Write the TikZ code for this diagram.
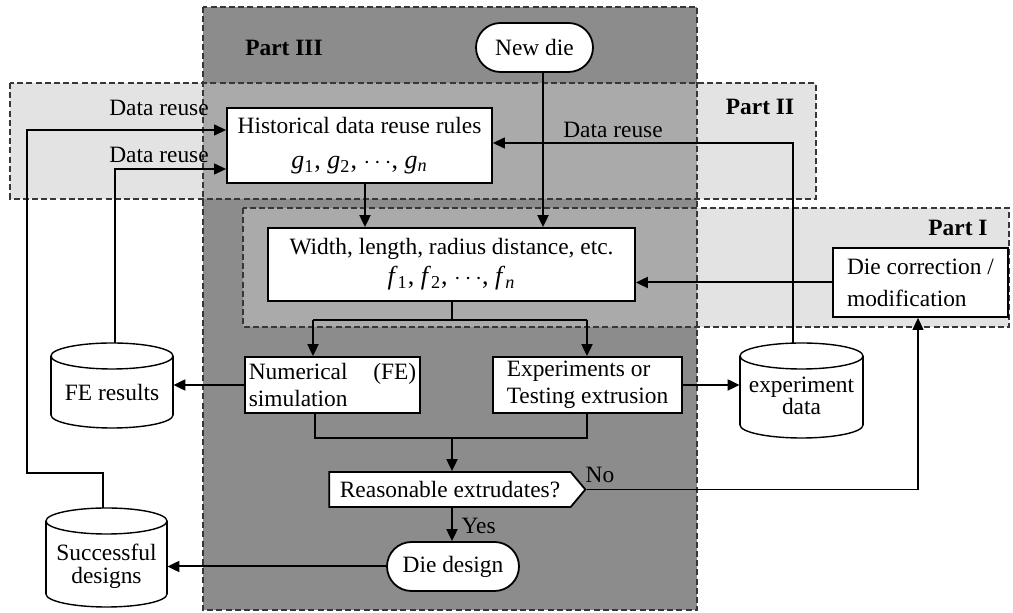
\documentclass[tikz,border=0pt]{standalone}
\usepackage{fontspec}
\setmainfont{Liberation Serif}
\usetikzlibrary{arrows.meta,shapes.misc,shapes.symbols}

\definecolor{partdark}{RGB}{140,140,140}
\definecolor{partmid}{RGB}{170,170,170}
\definecolor{partlight}{RGB}{227,227,227}
\definecolor{borderc}{RGB}{55,55,55}

% italic variable with a subscript, e.g. g_1
\newcommand\vsub[2]{\textit{#1}\textsubscript{#2}}

% a database drum: left, top, right, bottom (picture units)
\newcommand\drumbody[4]{%
  \pgfmathsetmacro\drumcx{(#1+#3)/2}%
  \pgfmathsetmacro\drumrx{(#3-#1)/2}%
  \filldraw[fill=white, line width=0.7pt] (\drumcx,#4-13) ellipse [x radius=\drumrx, y radius=13];
  \fill[white] (#1,#2+13) rectangle (#3,#4-13);
  \draw[line width=0.7pt] (#1,#2+13) -- (#1,#4-13) (#3,#2+13) -- (#3,#4-13);
  \filldraw[fill=white, line width=0.7pt] (\drumcx,#2+13) ellipse [x radius=\drumrx, y radius=13];
}

\begin{document}
\begin{tikzpicture}[x=0.5pt, y=-0.5pt,
  every node/.style={font=\fontsize{11.7}{14}\selectfont},
  box/.style={draw=black, fill=white, line width=0.9pt, inner sep=2pt},
  pill/.style={box, rounded rectangle},
  drum/.style={inner sep=0pt},
  arr/.style={line width=1pt, -{Triangle[length=6pt,width=5.5pt]}},
  thinarr/.style={line width=0.6pt, -{Triangle[length=6pt,width=5.5pt]}},
  link/.style={line width=1pt},
  region/.style={draw=borderc, line width=0.8pt, dash pattern=on 3pt off 1.6pt},
  partlabel/.style={font=\fontsize{11.7}{14}\selectfont\bfseries},
  mathline/.style={font=\fontsize{13}{15}\selectfont}]

\useasboundingbox (0,0) rectangle (1013,613);

% shaded parts
\fill[partlight] (10,83) rectangle (816,199);
\fill[partlight] (243,208) rectangle (1009,327);
\fill[partdark] (203,7) rectangle (697,610);
\fill[partmid] (203,83) rectangle (697,199);
\fill[partmid] (243,208) rectangle (697,327);
\draw[region] (203,7) rectangle (697,610);
\draw[region] (10,83) rectangle (816,199);
\draw[region] (243,208) rectangle (1009,327);

\node[partlabel] (p3) at (284,48) {Part III};
\node[partlabel] (p2) at (760,107) {Part II};
\node[partlabel] (p1) at (958,228) {Part I};

% process steps
\node[pill, minimum width=62.5pt, minimum height=24.5pt] (newdie) at (534.5,47.5) {New die};
\node[box, minimum width=132.5pt, minimum height=37.5pt, align=center,
      font=\fontsize{11.7}{17.5}\selectfont] (hist) at (359.5,145.5)
  {Historical data reuse rules\\
   {\fontsize{13}{15}\selectfont\vsub{g}{1}, \vsub{g}{2}, $\cdots$, \vsub{g}{\textit{n}}}};
\node[box, minimum width=183.5pt, minimum height=36.5pt, align=center,
      font=\fontsize{11.7}{15}\selectfont] (width) at (451.5,264.5)
  {Width, length, radius distance, etc.\\
   {\fontsize{13}{15}\selectfont\vsub{f}{1}, \vsub{f}{2}, $\cdots$, \vsub{f}{\textit{n}}}};
\node[box, minimum width=87.5pt, minimum height=28pt, align=left,
      font=\fontsize{11.7}{13.5}\selectfont] (num) at (332.5,385)
  {Numerical\hspace{1.1em}(FE)\\simulation};
\node[box, minimum width=94.5pt, minimum height=28pt, align=left,
      font=\fontsize{11.7}{13.5}\selectfont] (exp) at (587.5,385)
  {Experiments or\\Testing extrusion};
\node[box, signal, signal to=east, signal from=nowhere, signal pointer angle=100,
      minimum width=128pt, minimum height=17.5pt] (reason) at (450,489.5)
  {Reasonable extrudates?};
\node[pill, minimum width=70pt, minimum height=24.5pt] (diedesign) at (453,566.5) {Die design};
\node[box, minimum width=87.5pt, minimum height=34.5pt, align=left,
      font=\fontsize{11.7}{16}\selectfont] (diecorr) at (920.5,282.5)
  {Die correction /\\modification};

% data stores
\drumbody{51}{343}{173}{428}
\drumbody{740}{343}{863}{438}
\drumbody{46}{508}{167}{607}
\node[drum, minimum width=61pt, minimum height=42.5pt,
      label={[yshift=-3.75pt]center:FE results}] (fe) at (112,385.5) {};
\node[drum, minimum width=61.5pt, minimum height=47.5pt,
      label={[yshift=-2.75pt, align=center, font=\fontsize{11.7}{11}\selectfont]center:{experiment\\data}}] (expdata) at (801.5,390.5) {};
\node[drum, minimum width=60.5pt, minimum height=49.5pt,
      label={[yshift=-4.5pt, align=center, font=\fontsize{11.7}{11.5}\selectfont]center:{Successful\\designs}}] (succ) at (106.5,557.5) {};

% routing points
\coordinate (newdieout) at (543,72);
\coordinate (split) at (452,320);
\coordinate (splitL) at (313,320);
\coordinate (splitR) at (587,320);
\coordinate (mergeL) at (315,438);
\coordinate (mergeR) at (587,438);
\coordinate (merge) at (452,438);
\coordinate (reuseR) at (793,143);
\coordinate (reuseM) at (115,169);
\coordinate (succup) at (103,473);
\coordinate (farleft) at (27,473);
\coordinate (reuseL) at (27,130);
\coordinate (nocorner) at (918,489.5);

% main flow
\draw[arr] (newdieout) -- (newdieout |- width.north);
\draw[arr] (hist.south -| 365,0) -- (width.north -| 365,0);
\draw[link] (width.south -| split) -- (split);
\draw[link] (splitL) -- (splitR);
\draw[arr] (splitL) -- (splitL |- num.north);
\draw[arr] (splitR) -- (splitR |- exp.north);
\draw[arr] (num.west) -- (fe.east |- num.west);
\draw[arr] (exp.east) -- (expdata.west |- exp.east);
\draw[link] (num.south -| mergeL) -- (mergeL) -- (mergeR) -- (exp.south -| mergeR);
\draw[arr] (merge) -- (reason.north -| merge);
\draw[arr] (reason.south -| merge) -- (diedesign.north -| merge)
  node[pos=0.55, right=1pt] (yes) {Yes};
\draw[thinarr] (reason.east) -- (nocorner) -- (diecorr.south -| nocorner);
\node (no) at (600,475) {No};
\draw[arr] (diecorr.west) -- (width.east |- diecorr.west);
\draw[arr] (diedesign.west) -- (succ.east |- diedesign.west);

% data reuse loops
\draw[thinarr] (expdata.north -| reuseR) -- (reuseR) -- (hist.east |- reuseR);
\draw[thinarr] (fe.north -| reuseM) -- (reuseM) -- (hist.west |- reuseM);
\draw[thinarr] (succ.north -| succup) -- (succup) -- (farleft) -- (reuseL) -- (hist.west |- reuseL);
\node (dr1) at (159,108) {Data reuse};
\node (dr2) at (159,155) {Data reuse};
\node (dr3) at (613,130) {Data reuse};
\end{tikzpicture}
\end{document}
